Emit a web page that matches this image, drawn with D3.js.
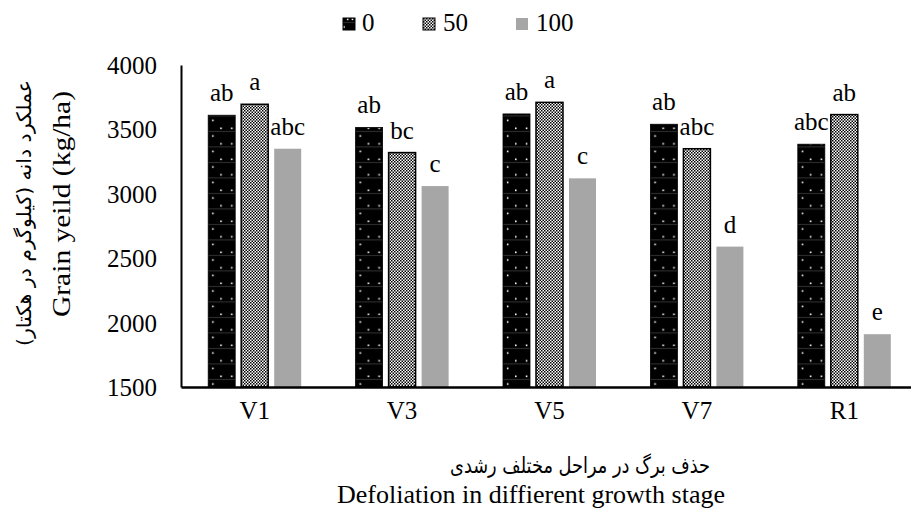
<!DOCTYPE html>
<html>
<head>
<meta charset="utf-8">
<script src="https://cdn.jsdelivr.net/npm/d3@7"></script>
<style>
  body { margin: 0; background: white; }
</style>
</head>
<body>
<div id="wrapper"></div>
<script>

const stages = ["V1", "V3", "V5", "V7", "R1"]
const levels = ["0", "50", "100"]
const yield0 = [3610, 3515, 3620, 3540, 3385]
const yield50 = [3695, 3320, 3710, 3350, 3615]
const yield100 = [3350, 3060, 3120, 2590, 1910]
const letters0 = ["ab", "ab", "ab", "ab", "abc"]
const letters50 = ["a", "bc", "a", "abc", "ab"]
const letters100 = ["abc", "c", "c", "d", "e"]
const yTicks = [1500, 2000, 2500, 3000, 3500, 4000]

const serif = "'Liberation Serif', 'Times New Roman', serif"
const arabic = "'DejaVu Sans', sans-serif"

async function drawChart() {

  const series = [yield0, yield50, yield100]
  const letters = [letters0, letters50, letters100]
  const dataset = []
  stages.forEach((s, i) => levels.forEach((l, j) => dataset.push({
    stage: s, level: l, value: series[j][i], letter: letters[j][i], i: dataset.length,
  })))

  // dimensions and framing
  let dimensions = {
    width: 911,
    height: 515,
    margin: { top: 65, right: -7, bottom: 128, left: 181 },
  }
  dimensions.boundedWidth = dimensions.width
    - dimensions.margin.left
    - dimensions.margin.right
  dimensions.boundedHeight = dimensions.height
    - dimensions.margin.top
    - dimensions.margin.bottom

  const wrapper = d3.select("#wrapper")
    .append("svg")
      .attr("width", dimensions.width)
      .attr("height", dimensions.height)
      .style("font-family", serif)

  const defs = wrapper.append("defs")

  const bounds = wrapper.append("g")
      .attr("transform", `translate(${dimensions.margin.left}, ${dimensions.margin.top})`)

  // scales
  const xScale = d3.scaleBand()
    .domain(stages)
    .range([0, dimensions.boundedWidth])

  const groupW = 93
  const x1Scale = d3.scaleBand()
    .domain(levels)
    .range([(xScale.bandwidth() - groupW) / 2, (xScale.bandwidth() + groupW) / 2])
    .paddingInner(6 / 33)

  const yScale = d3.scaleLinear()
    .domain([1500, 4000])
    .range([dimensions.boundedHeight, 0])

  // patterns
  const checker = defs.append("pattern")
      .attr("id", "checker")
      .attr("patternUnits", "userSpaceOnUse")
      .attr("width", 3).attr("height", 3)
  checker.append("rect").attr("width", 3).attr("height", 3).attr("fill", "white")
  checker.append("rect").attr("width", 1.5).attr("height", 1.5).attr("fill", "black")
  checker.append("rect").attr("x", 1.5).attr("y", 1.5).attr("width", 1.5).attr("height", 1.5).attr("fill", "black")

  const barX = d => dimensions.margin.left + xScale(d.stage) + x1Scale(d.level)
  const bw = x1Scale.bandwidth()

  function makeDots(id, x0, w) {
    const p = defs.append("pattern")
        .attr("id", id)
        .attr("patternUnits", "userSpaceOnUse")
        .attr("x", x0).attr("y", 0)
        .attr("width", w).attr("height", 15.5)
    p.append("rect").attr("width", w).attr("height", 15.5).attr("fill", "black")
    p.append("rect").attr("x", 0).attr("y", 4.3).attr("width", w).attr("height", 0.6).attr("fill", "#555")
    p.selectAll(".dot")
        .data([[w * 0.14, 0.5], [w * 0.74, 0.5], [w * 0.44, 8.2]])
      .join("rect")
        .attr("x", d => d[0]).attr("y", d => d[1])
        .attr("width", 1.6).attr("height", 1.6)
        .attr("fill", "white")
  }

  dataset.filter(d => d.level == "0")
    .forEach(d => makeDots(`dots-${d.i}`, barX(d), bw))

  const fillFor = d => d.level == "0" ? `url(#dots-${d.i})`
    : d.level == "50" ? "url(#checker)" : "#a6a6a6"

  // bars
  bounds.selectAll("rect.bar")
      .data(dataset)
    .join("rect")
      .attr("class", "bar")
      .attr("x", d => xScale(d.stage) + x1Scale(d.level))
      .attr("y", d => yScale(d.value))
      .attr("width", bw)
      .attr("height", d => dimensions.boundedHeight - yScale(d.value))
      .attr("fill", fillFor)
      .attr("stroke", d => d.level == "100" ? "none" : "black")
      .attr("stroke-width", d => d.level == "50" ? 1.5 : 0.8)

  // letters
  bounds.selectAll("text.letter")
      .data(dataset)
    .join("text")
      .attr("class", "letter")
      .attr("x", d => xScale(d.stage) + x1Scale(d.level) + bw / 2)
      .attr("y", d => yScale(d.value) - 14)
      .attr("text-anchor", "middle")
      .style("font-family", serif)
      .style("font-size", "25px")
      .text(d => d.letter)

  // axes
  const yAxisGenerator = d3.axisLeft()
    .scale(yScale)
    .tickValues(yTicks)
    .tickFormat(d3.format("d"))
    .tickSize(0)
    .tickPadding(24)
  const yAxis = bounds.append("g")
    .call(yAxisGenerator)
      .attr("font-family", null)
  yAxis.select(".domain").attr("stroke", "black").attr("stroke-width", 2)
  yAxis.selectAll("text")
      .style("font-size", "25px")
      .style("font-family", serif)
      .attr("dy", "0.34em")

  const xAxisGenerator = d3.axisBottom()
    .scale(xScale)
    .tickSize(0)
    .tickPadding(14)
  const xAxis = bounds.append("g")
    .call(xAxisGenerator)
      .attr("font-family", null)
      .attr("transform", `translate(0, ${dimensions.boundedHeight})`)
  xAxis.select(".domain").attr("stroke", "black").attr("stroke-width", 2.5)
  xAxis.selectAll("text")
      .style("font-size", "25px")
      .style("font-family", serif)
      .attr("dy", "0.71em")

  // axis titles
  wrapper.append("text")
      .attr("x", 580).attr("y", 473)
      .attr("text-anchor", "middle")
      .attr("direction", "rtl")
      .attr("textLength", 260)
      .attr("lengthAdjust", "spacingAndGlyphs")
      .style("font-family", arabic)
      .style("font-size", "22px")
      .text("حذف برگ در مراحل مختلف رشدی")
  wrapper.append("text")
      .attr("x", 531).attr("y", 503)
      .attr("text-anchor", "middle")
      .style("font-family", serif)
      .style("font-size", "26px")
      .text("Defoliation in diffierent growth stage")

  wrapper.append("text")
      .attr("transform", "translate(70, 204) rotate(-90)")
      .attr("text-anchor", "middle")
      .attr("textLength", 226)
      .attr("lengthAdjust", "spacingAndGlyphs")
      .style("font-family", serif)
      .style("font-size", "25px")
      .text("Grain yeild (kg/ha)")
  wrapper.append("text")
      .attr("transform", "translate(31, 213) rotate(-90)")
      .attr("text-anchor", "middle")
      .attr("direction", "rtl")
      .attr("textLength", 266)
      .attr("lengthAdjust", "spacingAndGlyphs")
      .style("font-family", arabic)
      .style("font-size", "20px")
      .text("عملکرد دانه (کیلوگرم در هکتار)")

  // legend
  const legendX = [343, 423, 516]
  makeDots("dots-legend", 343, 12)
  const legend = wrapper.selectAll("g.legend")
      .data(levels)
    .join("g")
      .attr("class", "legend")
      .attr("transform", (d, i) => `translate(${legendX[i]}, 18)`)
  legend.append("rect")
      .attr("width", 12).attr("height", 12)
      .attr("fill", d => d == "0" ? "url(#dots-legend)" : d == "50" ? "url(#checker)" : "#a6a6a6")
      .attr("stroke", d => d == "100" ? "none" : "black")
      .attr("stroke-width", 1)
  legend.append("text")
      .attr("x", d => d == "0" ? 19 : 20)
      .attr("y", 13)
      .style("font-family", serif)
      .style("font-size", "25px")
      .text(d => d)
}

drawChart()
</script>
</body>
</html>
